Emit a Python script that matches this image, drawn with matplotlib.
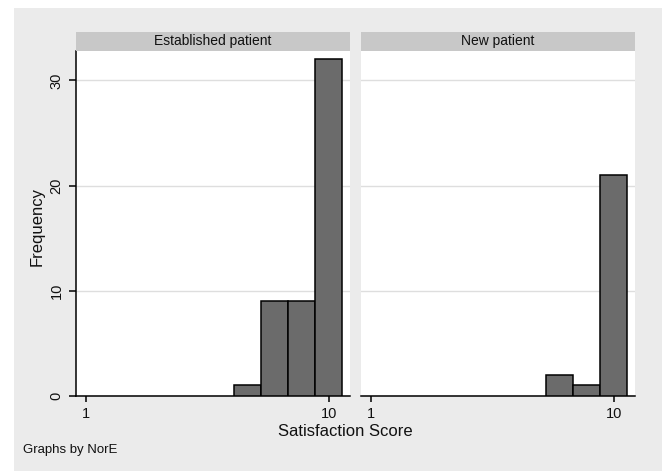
import matplotlib
matplotlib.use("Agg")
import matplotlib.pyplot as plt
from matplotlib.patches import Rectangle

plt.rcParams['font.family'] = ['Liberation Sans', 'DejaVu Sans']

# satisfaction score histograms by patient type (bin width 1)
panels = ["Established patient", "New patient"]
scores_est = [7, 8, 9, 10]
freq_est = [1, 9, 9, 32]
scores_new = [8, 9, 10]
freq_new = [2, 1, 21]
yticks = [0, 10, 20, 30]
xticks = [1, 10]

bg = "#ebebeb"
bar_col = "#6b6b6b"
strip_col = "#c8c8c8"
grid_col = "#dedede"
txt = "#111111"

fig = plt.figure(figsize=(6.62, 4.71), dpi=100)
W, H = 662, 471
fig.patches.append(Rectangle((14 / W, 0), 1 - 14 / W, 1 - 8 / H, transform=fig.transFigure,
                             facecolor=bg, edgecolor="none", zorder=-10))

ax_w = 274 / W
bottom = 1 - 396 / H
top = 1 - 51 / H
strip_h = 19 / H

data = [(scores_est, freq_est), (scores_new, freq_new)]
lefts = [76 / W, 361 / W]

for i, (name, (sx, fy)) in enumerate(zip(panels, data)):
    ax = fig.add_axes([lefts[i], bottom, ax_w, top - bottom])
    ax.bar(sx, fy, width=1.0, color=bar_col, edgecolor="black", linewidth=1.1, zorder=3)
    ax.set_xlim(0.64, 10.78)
    ax.set_ylim(0, 32.8)
    ax.set_yticks(yticks)
    ax.set_xticks(xticks)
    ax.grid(axis="y", color=grid_col, linewidth=1.0, zorder=0)
    for s in ["top", "right"]:
        ax.spines[s].set_visible(False)
    ax.spines["bottom"].set_linewidth(1.1)
    ax.tick_params(axis="x", length=4, width=1.1, labelsize=10.5, pad=4, labelcolor=txt)
    if i == 0:
        ax.spines["left"].set_linewidth(1.1)
        ax.tick_params(axis="y", length=5, width=1.1, labelsize=10.5, pad=4, labelcolor=txt)
        for lab in ax.get_yticklabels():
            lab.set_rotation(90)
            lab.set_va("center")
    else:
        ax.spines["left"].set_visible(False)
        ax.tick_params(axis="y", length=0, labelleft=False)

    # panel title strip
    strip = fig.add_axes([lefts[i], top, ax_w, strip_h])
    strip.set_facecolor(strip_col)
    strip.set_xticks([])
    strip.set_yticks([])
    for s in strip.spines.values():
        s.set_visible(False)
    strip.text(0.5, 0.5, name, ha="center", va="center", fontsize=10, color=txt,
               transform=strip.transAxes)

fig.text(345 / W, 1 - 431 / H, "Satisfaction Score", ha="center", va="center", fontsize=12, color=txt)
fig.text(37 / W, 1 - 227 / H, "Frequency", ha="center", va="center", rotation=90, fontsize=12, color=txt)
fig.text(23 / W, 1 - 450 / H, "Graphs by NorE", ha="left", va="center", fontsize=9.5, color=txt)

fig.savefig("out.png", dpi=100)
